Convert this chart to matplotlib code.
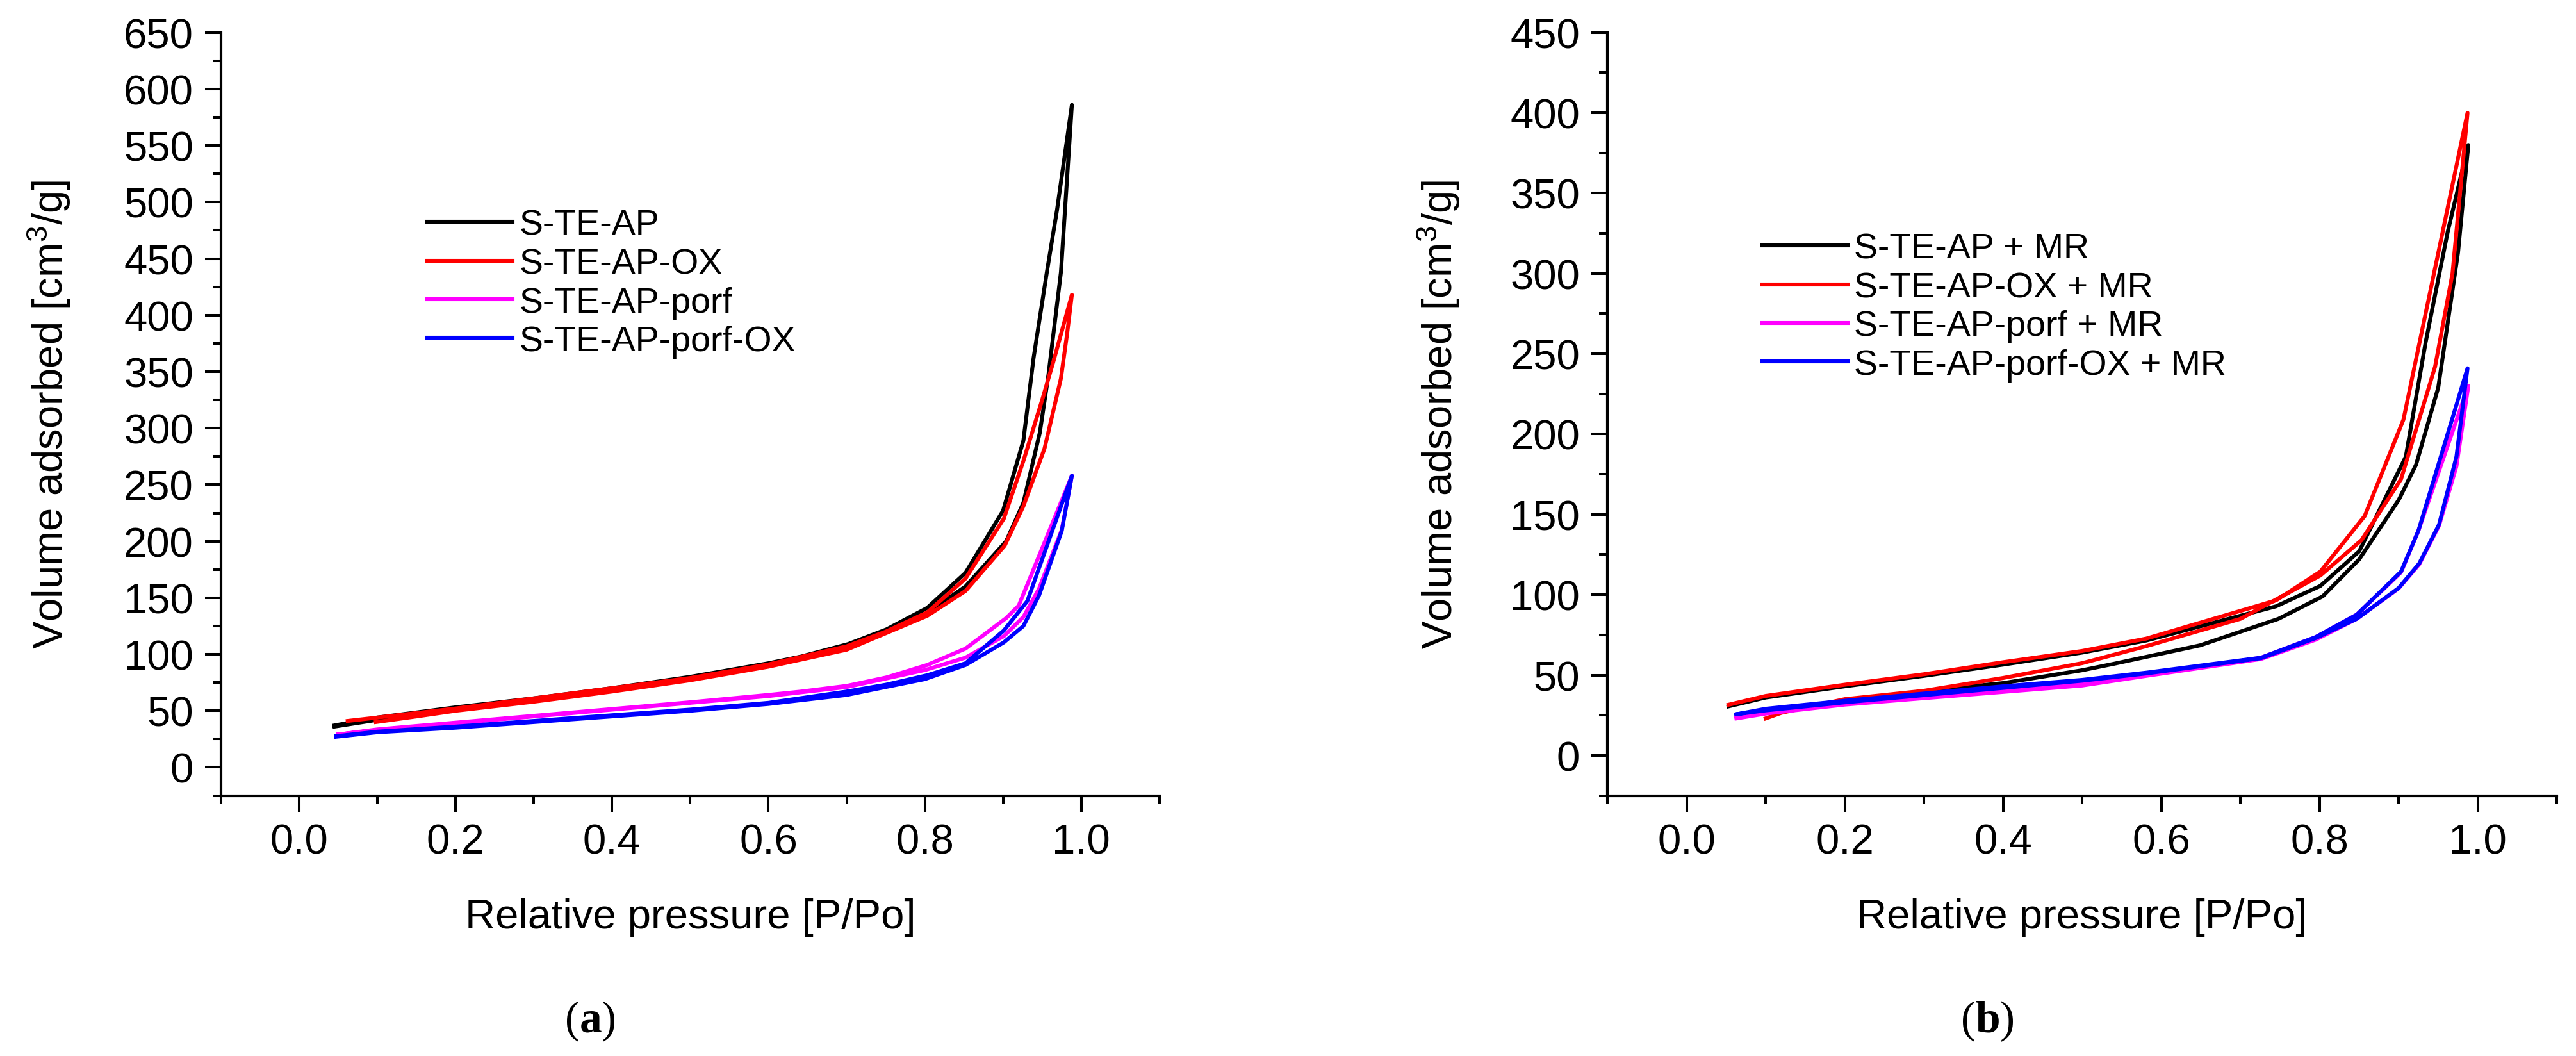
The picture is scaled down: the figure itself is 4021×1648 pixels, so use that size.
import matplotlib
matplotlib.use("Agg")
import matplotlib.pyplot as plt
from matplotlib.ticker import MultipleLocator, FormatStrFormatter

plt.rcParams['font.family'] = ['Liberation Sans', 'DejaVu Sans']
plt.rcParams['mathtext.fontset'] = 'custom'
plt.rcParams['mathtext.rm'] = 'Liberation Sans'
plt.rcParams['mathtext.it'] = 'Liberation Sans:italic'
plt.rcParams['mathtext.bf'] = 'Liberation Serif:bold'

# panel (a): adsorption branch followed by desorption branch
a_labels = ["S-TE-AP", "S-TE-AP-OX", "S-TE-AP-porf", "S-TE-AP-porf-OX"]
a_ap_x = [0.045, 0.1, 0.15, 0.2, 0.3, 0.4, 0.5, 0.6, 0.7, 0.8, 0.852, 0.904, 0.926, 0.947, 0.958, 0.974, 0.988,
          0.969, 0.956, 0.939, 0.926, 0.900, 0.852, 0.803, 0.751, 0.702, 0.642, 0.6, 0.5, 0.4, 0.3, 0.2, 0.1, 0.045]
a_ap_y = [36, 42, 47, 51, 59, 68, 78, 90, 105, 135, 160, 200, 234, 296, 347, 438, 586,
          493, 438, 362, 289, 227, 172, 141, 122, 109, 98, 92, 80, 70, 61, 53, 44, 37]
a_ox_x = [0.098, 0.15, 0.2, 0.3, 0.4, 0.5, 0.6, 0.7, 0.803, 0.852, 0.902, 0.926, 0.953, 0.974, 0.982, 0.988,
          0.964, 0.950, 0.926, 0.901, 0.852, 0.803, 0.75, 0.7, 0.6, 0.5, 0.4, 0.3, 0.2, 0.1, 0.062]
a_ox_y = [40, 45, 50, 58, 67, 77, 89, 104, 134, 156, 196, 231, 282, 344, 384, 418,
          358, 325, 271, 220, 167, 137, 120, 107, 91, 79, 70, 61, 52, 44, 41]
a_porf_x = [0.05, 0.1, 0.2, 0.3, 0.4, 0.5, 0.6, 0.7, 0.8, 0.852, 0.901, 0.926, 0.946, 0.975, 0.988,
            0.920, 0.904, 0.852, 0.803, 0.751, 0.7, 0.642, 0.6, 0.5, 0.4, 0.3, 0.2, 0.1, 0.05]
a_porf_y = [29, 33, 39, 45, 51, 57, 63, 71, 86, 97, 116, 133, 158, 210, 258,
            143, 132, 105, 90.5, 79.5, 72, 67, 64, 57.5, 51.5, 45.5, 39.5, 33.5, 29]
a_porfox_x = [0.047, 0.1, 0.2, 0.3, 0.4, 0.5, 0.6, 0.7, 0.8, 0.852, 0.901, 0.926, 0.946, 0.975, 0.988,
              0.931, 0.901, 0.852, 0.803, 0.75, 0.7, 0.6, 0.5, 0.4, 0.3, 0.2, 0.1, 0.047]
a_porfox_y = [27, 31, 35, 40, 45, 50, 56, 64, 78, 90.5, 110.5, 125, 152, 209, 258,
              147, 121, 92, 81.4, 73, 67, 57, 51, 46, 41, 36, 31.5, 27.5]

# panel (b)
b_labels = ["S-TE-AP + MR", "S-TE-AP-OX + MR", "S-TE-AP-porf + MR", "S-TE-AP-porf-OX + MR"]
b_ap_x = [0.1, 0.2, 0.3, 0.4, 0.5, 0.54, 0.649, 0.748, 0.804, 0.850, 0.900, 0.922, 0.950, 0.975, 0.988,
          0.962, 0.934, 0.909, 0.850, 0.801, 0.745, 0.581, 0.5, 0.4, 0.3, 0.2, 0.1, 0.053]
b_ap_y = [28, 34, 40, 45, 53, 57, 68.5, 85, 99, 122, 159, 181, 229, 313, 380,
          326, 257, 186, 127, 105.5, 92.8, 71.5, 64, 56.5, 49.5, 43, 36, 30.5]
b_ox_x = [0.1, 0.12, 0.2, 0.3, 0.4, 0.5, 0.581, 0.7, 0.801, 0.853, 0.903, 0.946, 0.968, 0.987,
          0.906, 0.857, 0.801, 0.745, 0.581, 0.5, 0.4, 0.3, 0.2, 0.1, 0.053]
b_ox_y = [23, 26.5, 35, 40.2, 48.2, 57.4, 68, 85, 112, 134, 172, 242, 300, 400,
          209, 149, 114.4, 96.5, 72.7, 65, 58, 50.5, 44, 37, 31.5]
b_porf_x = [0.063, 0.1, 0.2, 0.3, 0.4, 0.5, 0.581, 0.726, 0.795, 0.847, 0.900, 0.926, 0.951, 0.973, 0.988,
            0.925, 0.903, 0.847, 0.795, 0.726, 0.581, 0.5, 0.4, 0.3, 0.2, 0.1, 0.063]
b_porf_y = [23, 26, 31.6, 35.6, 39.5, 43.5, 49.5, 60, 72, 85, 104, 119, 143, 180, 230,
            140, 114, 87.6, 73.6, 60.8, 50, 45, 41, 37, 33, 28, 24]
b_porfox_x = [0.063, 0.1, 0.2, 0.3, 0.4, 0.5, 0.581, 0.726, 0.795, 0.847, 0.900, 0.926, 0.951, 0.973, 0.987,
              0.925, 0.903, 0.847, 0.795, 0.726, 0.581, 0.5, 0.4, 0.3, 0.2, 0.1, 0.063]
b_porfox_y = [25.6, 28, 33, 37.5, 42, 46.5, 51, 60.5, 73, 85, 104.2, 119.5, 143.7, 186, 241,
              140, 114.4, 87.6, 73.6, 60.8, 51.5, 47, 43, 38.5, 34, 29, 25.6]

colors = ['black', 'red', 'magenta', 'blue']

fig = plt.figure(figsize=(40.21, 16.49), dpi=100)
ax1 = fig.add_axes([0.0858, 0.2465, 0.3643, 0.7221])
ax2 = fig.add_axes([0.6240, 0.2465, 0.3686, 0.7221])


def style_axes(ax, ymax, ylab_x):
    for s in ['top', 'right']:
        ax.spines[s].set_visible(False)
    for s in ['left', 'bottom']:
        ax.spines[s].set_linewidth(3.0)
    ax.set_xlim(-0.1, 1.1)
    ax.set_ylim(-25, ymax)
    ax.xaxis.set_major_locator(MultipleLocator(0.2))
    ax.xaxis.set_minor_locator(MultipleLocator(0.1))
    ax.xaxis.set_major_formatter(FormatStrFormatter('%.1f'))
    ax.yaxis.set_major_locator(MultipleLocator(50))
    ax.yaxis.set_minor_locator(MultipleLocator(25))
    ax.tick_params(which='major', direction='out', length=18, width=2.9, labelsize=47, pad=13)
    ax.tick_params(which='minor', direction='out', length=9.5, width=2.9)
    ax.set_xlabel("Relative pressure [P/Po]", fontsize=47, va='baseline')
    ax.xaxis.set_label_coords(0.5, -0.173)
    ax.set_ylabel("Volume adsorbed [cm$^3$/g]", fontsize=47, va='center')
    ax.yaxis.set_label_coords(ylab_x, 0.5)


a_series = [(a_ap_x, a_ap_y), (a_ox_x, a_ox_y), (a_porf_x, a_porf_y), (a_porfox_x, a_porfox_y)]
for (xs, ys), c, lab in zip(a_series, colors, a_labels):
    ax1.plot(xs, ys, color=c, lw=4.4, label=lab)
style_axes(ax1, 650, -0.183)
ax1.legend(loc='upper left', bbox_to_anchor=(0.2198, 0.769), frameon=False, fontsize=40,
           handlelength=2.4, handletextpad=0.18, labelspacing=0.15, borderpad=0, borderaxespad=0)

b_series = [(b_ap_x, b_ap_y), (b_ox_x, b_ox_y), (b_porf_x, b_porf_y), (b_porfox_x, b_porfox_y)]
for (xs, ys), c, lab in zip(b_series, colors, b_labels):
    ax2.plot(xs, ys, color=c, lw=4.4, label=lab)
style_axes(ax2, 450, -0.178)
ax2.legend(loc='upper left', bbox_to_anchor=(0.163, 0.738), frameon=False, fontsize=40,
           handlelength=2.4, handletextpad=0.18, labelspacing=0.15, borderpad=0, borderaxespad=0)

fig.text(0.229, 0.033, r"($\mathbf{a}$)", fontsize=50, family='Liberation Serif', ha='center', va='center')
fig.text(0.7714, 0.033, r"($\mathbf{b}$)", fontsize=50, family='Liberation Serif', ha='center', va='center')

fig.savefig("out.png", dpi=100)
